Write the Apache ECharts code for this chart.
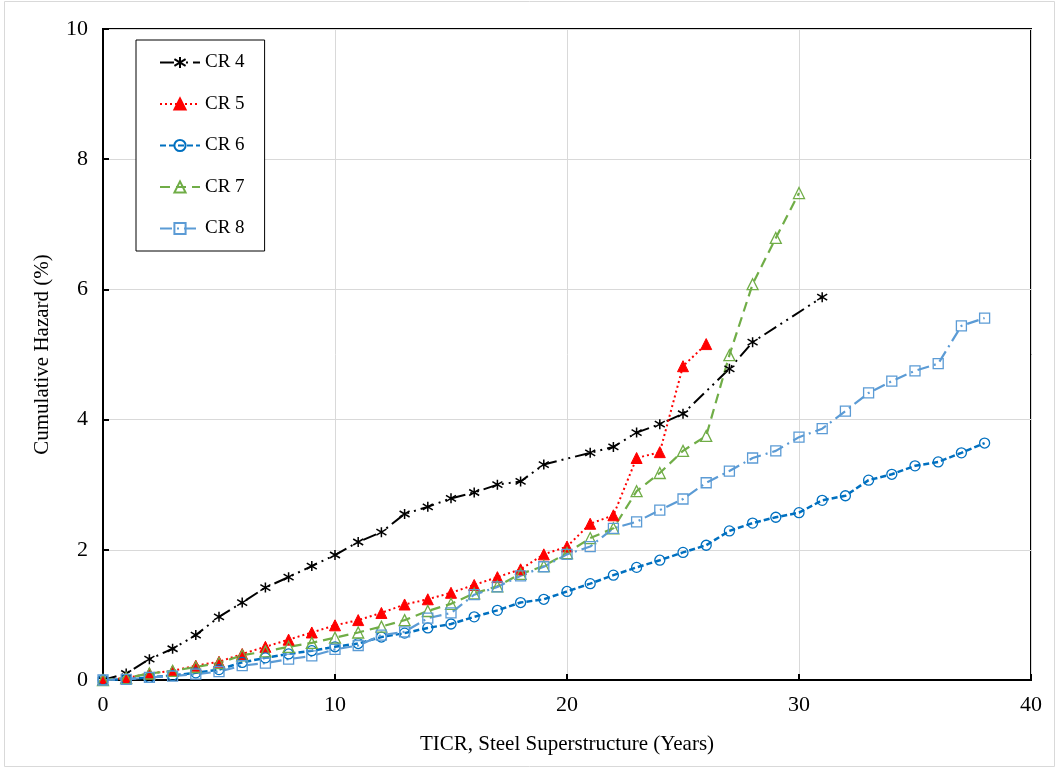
<!DOCTYPE html>
<html>
<head>
<meta charset="utf-8">
<script src="https://cdn.jsdelivr.net/npm/echarts@6/dist/echarts.min.js"></script>
<style>
  html, body { margin: 0; padding: 0; background: #fff; }
  #chart { width: 1058px; height: 770px; }
</style>
</head>
<body>
<div id="chart"></div>
<script>
// Cumulative hazard (%) by time in condition rating (years), steel superstructure
const cr4Years  = [0,1,2,3,4,5,6,7,8,9,10,11,12,13,14,15,16,17,18,19,21,22,23,24,25,27,28,31];
const cr4Values = [0,0.1,0.32,0.48,0.69,0.97,1.19,1.42,1.58,1.75,1.92,2.12,2.27,2.55,2.66,2.79,2.88,3.0,3.05,3.31,3.49,3.58,3.80,3.93,4.09,4.78,5.19,5.88];

const cr5Values = [0,0.03,0.1,0.14,0.22,0.28,0.40,0.51,0.62,0.73,0.84,0.92,1.03,1.16,1.24,1.34,1.46,1.58,1.70,1.93,2.05,2.40,2.53,3.41,3.50,4.82,5.16];

const cr6Values = [0,0.01,0.04,0.07,0.11,0.16,0.27,0.34,0.40,0.45,0.51,0.56,0.66,0.72,0.80,0.86,0.97,1.07,1.19,1.24,1.36,1.48,1.61,1.73,1.84,1.96,2.07,2.29,2.41,2.50,2.57,2.76,2.83,3.07,3.16,3.29,3.35,3.49,3.64];

const cr7Values = [0,0.03,0.1,0.14,0.2,0.26,0.38,0.44,0.51,0.57,0.65,0.73,0.82,0.92,1.06,1.17,1.33,1.44,1.63,1.75,1.95,2.18,2.33,2.90,3.18,3.52,3.75,4.99,6.08,6.79,7.48];

const cr8Values = [0,0.01,0.04,0.06,0.09,0.13,0.22,0.26,0.32,0.37,0.47,0.53,0.69,0.74,0.95,1.03,1.31,1.43,1.60,1.74,1.93,2.05,2.33,2.43,2.61,2.78,3.03,3.21,3.41,3.52,3.73,3.86,4.13,4.41,4.59,4.75,4.86,5.44,5.56];

const seriesNames = ['CR 4', 'CR 5', 'CR 6', 'CR 7', 'CR 8'];
const xTitle = 'TICR, Steel Superstructure (Years)';
const yTitle = 'Cumulative Hazard (%)';

// pairs values with their year (consecutive years from 0 unless given)
function pairs(values, years) {
  return values.map((v, i) => [years ? years[i] : i, v]);
}

const FONT = '"Liberation Serif", "Times New Roman", serif';
const asterisk = 'path://M5,0 L5,10 M0.8,2 L9.2,8 M0.8,8 L9.2,2';
const clear = 'rgba(255,255,255,0)';

const chart = echarts.init(document.getElementById('chart'), null, { renderer: 'canvas' });

chart.setOption({
  animation: false,
  backgroundColor: '#fff',
  textStyle: { fontFamily: FONT, color: '#000' },
  graphic: [{
    type: 'rect',
    shape: { x: 4.5, y: 1.5, width: 1050, height: 765 },
    style: { fill: 'none', stroke: '#d9d9d9', lineWidth: 1 },
    silent: true, z: -1
  }],
  grid: {
    left: 103, top: 29, width: 928, height: 651,
    show: true, borderColor: '#000', borderWidth: 2, backgroundColor: 'transparent'
  },
  legend: {
    orient: 'vertical',
    left: 136, top: 40,
    padding: [13, 20, 13, 23],
    itemGap: 22.5,
    itemWidth: 40, itemHeight: 14,
    borderColor: '#000', borderWidth: 1,
    backgroundColor: '#fff',
    textStyle: { fontFamily: FONT, fontSize: 19, color: '#000' },
    data: seriesNames
  },
  xAxis: {
    type: 'value', min: 0, max: 40, interval: 10,
    name: xTitle, nameLocation: 'middle', nameGap: 54,
    nameTextStyle: { fontFamily: FONT, fontSize: 21, color: '#000' },
    axisLine: { show: true, lineStyle: { color: '#000', width: 2 } },
    axisTick: { show: true, inside: true, length: 6, lineStyle: { color: '#000', width: 2 } },
    axisLabel: { fontFamily: FONT, fontSize: 22, color: '#000', margin: 14 },
    splitLine: { show: true, lineStyle: { color: '#d9d9d9', width: 1 } }
  },
  yAxis: {
    type: 'value', min: 0, max: 10, interval: 2,
    name: yTitle, nameLocation: 'middle', nameGap: 50,
    nameTextStyle: { fontFamily: FONT, fontSize: 21, color: '#000' },
    axisLine: { show: true, lineStyle: { color: '#000', width: 2 } },
    axisTick: { show: true, inside: true, length: 6, lineStyle: { color: '#000', width: 2 } },
    axisLabel: { fontFamily: FONT, fontSize: 22, color: '#000', margin: 15 },
    splitLine: { show: true, lineStyle: { color: '#d9d9d9', width: 1 } }
  },
  series: [
    {
      name: 'CR 4', type: 'line',
      data: pairs(cr4Values, cr4Years),
      symbol: asterisk, symbolSize: 10,
      lineStyle: { color: '#000', width: 2, type: [14, 5, 2, 5, 2, 5] },
      itemStyle: { color: clear, borderColor: '#000', borderWidth: 1.5 }
    },
    {
      name: 'CR 5', type: 'line',
      data: pairs(cr5Values),
      symbol: 'triangle', symbolSize: 11,
      lineStyle: { color: '#ff0000', width: 2, type: [2, 3] },
      itemStyle: { color: '#ff0000', borderColor: '#ff0000', borderWidth: 1 }
    },
    {
      name: 'CR 6', type: 'line',
      data: pairs(cr6Values),
      symbol: 'circle', symbolSize: 10,
      lineStyle: { color: '#0070c0', width: 2.5, type: [6, 3] },
      itemStyle: { color: clear, borderColor: '#0070c0', borderWidth: 1.3 }
    },
    {
      name: 'CR 7', type: 'line',
      data: pairs(cr7Values),
      symbol: 'triangle', symbolSize: 11,
      lineStyle: { color: '#70ad47', width: 2.2, type: [10, 6] },
      itemStyle: { color: clear, borderColor: '#70ad47', borderWidth: 1.3 }
    },
    {
      name: 'CR 8', type: 'line',
      data: pairs(cr8Values),
      symbol: 'rect', symbolSize: 10,
      lineStyle: { color: '#5b9bd5', width: 2.2, type: [12, 5, 2, 5] },
      itemStyle: { color: clear, borderColor: '#5b9bd5', borderWidth: 1.3 }
    }
  ]
});
</script>
</body>
</html>
